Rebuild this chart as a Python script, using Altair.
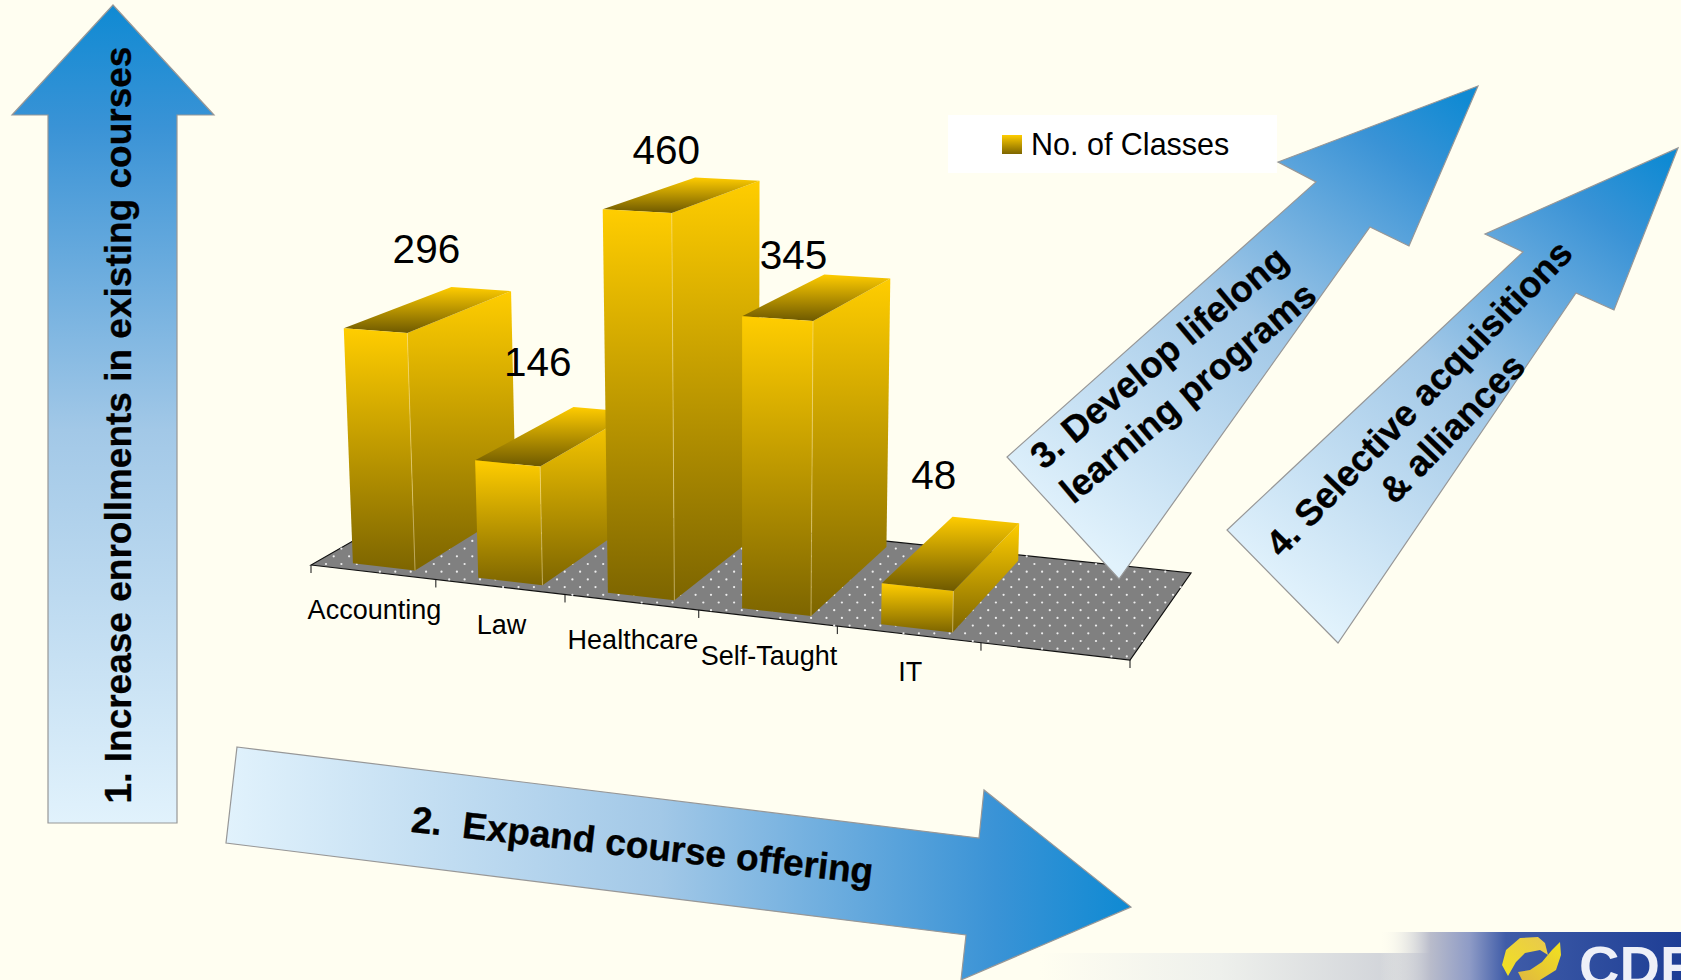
import altair as alt
import pandas as pd

# Chart data
CATEGORIES = ["Accounting", "Law", "Healthcare", "Self-Taught", "IT"]
CLASSES = [296, 146, 460, 345, 48]
LEGEND_TITLE = "No. of Classes"

W, H = 1681, 980
BG = "#FFFEF1"
X_SCALE = alt.Scale(domain=[0, W], range=[0, W])
Y_SCALE = alt.Scale(domain=[H, 0])

# Floor of the 3D plot: front-left, front-right, back-right, back-left
FLOOR = [(311, 565), (1130, 660), (1191, 573), (435, 494)]
SLOTS = 6


def floor_projection():
    (x0, y0), (x1, y1), (x2, y2), (x3, y3) = FLOOR
    dx1, dx2, sx = x1 - x2, x3 - x2, x0 - x1 + x2 - x3
    dy1, dy2, sy = y1 - y2, y3 - y2, y0 - y1 + y2 - y3
    det = dx1 * dy2 - dx2 * dy1
    g = (sx * dy2 - dx2 * sy) / det
    h = (dx1 * sy - sx * dy1) / det
    a, b, c = x1 - x0 + g * x1, x3 - x0 + h * x3, x0
    d, e, f = y1 - y0 + g * y1, y3 - y0 + h * y3, y0

    def project(slot, depth):
        u = slot / SLOTS
        w = g * u + h * depth + 1
        return ((a * u + b * depth + c) / w, (d * u + e * depth + f) / w)

    return project


floor_point = floor_projection()


def lift(point, value):
    # Raise a floor point by a data value; nearer points and taller columns scale up
    x, y = point
    rise = value * (0.79 + (y - 570) * 0.0011) * (1 + value * 5e-5)
    return (x + (x - 742) * 1e-4 * rise, y - rise)


def polygon(points):
    ring = [list(p) for p in points] + [list(points[0])]
    return {"type": "Feature", "properties": {},
            "geometry": {"type": "Polygon", "coordinates": [ring]}}


def shape(points, **mark):
    mark.setdefault("stroke", "transparent")
    mark.setdefault("strokeWidth", 0)
    return (alt.Chart(alt.Data(values=[polygon(points)]))
            .mark_geoshape(**mark)
            .project(type="identity", scale=1, translate=[0, 0]))


def text_layer(rows, **mark):
    return alt.Chart(pd.DataFrame(rows)).mark_text(**mark).encode(
        x=alt.X("px:Q", scale=X_SCALE, axis=None),
        y=alt.Y("py:Q", scale=Y_SCALE, axis=None),
        text=alt.Text("label:N"),
    )


def gradient(stops, x1=0.0, y1=0.0, x2=0.0, y2=1.0):
    return alt.LinearGradient(
        gradient="linear", x1=x1, y1=y1, x2=x2, y2=y2,
        stops=[alt.GradientStop(offset=o, color=c) for o, c in stops],
    )


layers = []

# Footer banner with the logo
layers.append(shape([(1040, 953), (1440, 953), (1440, 980), (1040, 980)],
                    fill=gradient([(0, BG), (0.45, "#EEF0EC"), (1, "#C9CCD4")], 0, 0, 1, 0)))
layers.append(shape([(1379, 932), (1681, 932), (1681, 980), (1379, 980)],
                    fill=gradient([(0, "#FFFEF100"), (0.17, "#B9BCCB"), (0.3, "#8E9BC6"),
                                   (0.42, "#3F5CA8"), (1, "#1E3E95")], 0, 0, 1, 0)))
LOGO_UPPER = [(1538, 937), (1520, 938), (1506, 950), (1502, 965), (1508, 976), (1516, 962),
              (1525, 953), (1540, 950), (1548, 955), (1545, 943)]
LOGO_LOWER = [(1560, 942), (1561, 955), (1556, 970), (1540, 980), (1522, 980), (1518, 972),
              (1530, 970), (1542, 962), (1552, 950)]
layers.append(shape(LOGO_UPPER, fill=gradient([(0, "#E8C850"), (1, "#F2E21E")], 1, 0, 0, 1)))
layers.append(shape(LOGO_LOWER, fill=gradient([(0, "#F2E21E"), (1, "#E0B840")], 1, 0, 0, 1)))
layers.append(text_layer([{"px": 1579, "py": 985, "label": "CDF"}],
                         font="Liberation Sans", fontWeight="bold", fontSize=56,
                         color="#EEF0F8", align="left", baseline="alphabetic"))

# Floor with its dotted fill, outline and tick marks
layers.append(shape(FLOOR, fill="#808080", stroke="#111111", strokeWidth=1.2))


def inside_floor(x, y):
    sign = []
    for i in range(4):
        ax, ay = FLOOR[i]
        bx, by = FLOOR[(i + 1) % 4]
        sign.append((bx - ax) * (y - ay) - (by - ay) * (x - ax) < -2.5)
    return all(sign)


dots = []
for row in range(-14, 30):
    py = 571.7 + row * 7.7
    for col in range(-60, 20):
        px = 1026.7 + (col + (row % 2) / 2) * 15.4
        if inside_floor(px, py):
            dots.append({"px": px, "py": py})
layers.append(alt.Chart(pd.DataFrame(dots)).mark_circle(size=5, color="#EDEDED", opacity=1).encode(
    x=alt.X("px:Q", scale=X_SCALE, axis=None),
    y=alt.Y("py:Q", scale=Y_SCALE, axis=None),
))

ticks = []
for slot in range(SLOTS + 1):
    px, py = floor_point(slot, 0)
    ticks.append({"px": px, "py": py, "py2": py + 8})
layers.append(alt.Chart(pd.DataFrame(ticks)).mark_rule(color="#111111", strokeWidth=1).encode(
    x=alt.X("px:Q", scale=X_SCALE, axis=None),
    y=alt.Y("py:Q", scale=Y_SCALE, axis=None),
    y2="py2:Q",
))

# Bars, painted left to right so that nearer columns overlap the earlier ones
GOLD = [(0, "#FFCD00"), (1, "#7D6500")]
TOP_FACE = [(0, "#FFCC00"), (1, "#6E5900")]
SLOT_START, SLOT_END = 0.265, 0.765
DEPTH_FRONT, DEPTH_BACK = 0.07, 0.93
LABEL_OFFSETS = [(-2, -24), (-18, -31), (-16, -13), (-24, -5), (-18, -28)]

value_labels = []
for i, value in enumerate(CLASSES):
    fl = floor_point(i + SLOT_START, DEPTH_FRONT)
    fr = floor_point(i + SLOT_END, DEPTH_FRONT)
    br = floor_point(i + SLOT_END, DEPTH_BACK)
    bl = floor_point(i + SLOT_START, DEPTH_BACK)
    tfl, tfr, tbr, tbl = (lift(p, value) for p in (fl, fr, br, bl))
    layers.append(shape([fr, br, tbr, tfr], fill=gradient(GOLD)))
    layers.append(shape([tfl, tfr, tbr, tbl], fill=gradient(TOP_FACE)))
    layers.append(shape([fl, fr, tfr, tfl], fill=gradient(GOLD)))
    # Faint highlight along the near vertical edge
    layers.append(shape([fr, tfr], fill="transparent", stroke="#F4DE90",
                        strokeWidth=0.6, strokeOpacity=0.5))
    dx, dy = LABEL_OFFSETS[i]
    value_labels.append({
        "px": (tfl[0] + tfr[0] + tbr[0] + tbl[0]) / 4 + dx,
        "py": tbl[1] + dy,
        "label": str(value),
    })

layers.append(text_layer(value_labels, font="Liberation Sans", fontSize=40.5, color="#000000",
                         align="center", baseline="alphabetic"))

category_labels = []
for i, name in enumerate(CATEGORIES):
    left, right = floor_point(i, 0), floor_point(i + 1, 0)
    category_labels.append({"px": (left[0] + right[0]) / 2 + 1,
                            "py": (left[1] + right[1]) / 2 + 47,
                            "label": name})
layers.append(text_layer(category_labels, font="Liberation Sans", fontSize=27, color="#000000",
                         align="center", baseline="alphabetic"))

# Legend box
layers.append(shape([(948, 115), (1277, 115), (1277, 173), (948, 173)], fill="#FFFFFF"))
layers.append(shape([(1002, 135), (1022, 135), (1022, 154), (1002, 154)], fill=gradient(GOLD)))
layers.append(text_layer([{"px": 1031, "py": 155, "label": LEGEND_TITLE}],
                         font="Liberation Sans", fontSize=30.5, color="#000000",
                         align="left", baseline="alphabetic"))

# Strategy arrows
BLUE = [(0, "#E1F2FC"), (0.48, "#A2C8E7"), (0.85, "#3A93D6"), (1, "#0F8AD3")]
ARROW_STROKE = {"stroke": "#979797", "strokeWidth": 1.2}

ARROW_UP = [(113, 5), (214, 115), (177, 115), (177, 823), (48, 823), (48, 115), (12, 115)]
ARROW_RIGHT = [(237, 747), (979, 838), (984, 790), (1131, 907), (961, 980), (966, 935), (226, 843)]
ARROW_LIFELONG = [(1478, 86), (1409, 246), (1370, 227), (1119, 579), (1007, 457), (1316, 182), (1278, 162)]
ARROW_ALLIANCES = [(1678, 148), (1614, 310), (1576, 293), (1338, 643), (1227, 530), (1523, 252), (1485, 234)]

layers.append(shape(ARROW_UP, fill=gradient(BLUE, 0, 1, 0, 0), **ARROW_STROKE))
layers.append(shape(ARROW_RIGHT, fill=gradient(BLUE, 0, 0, 1, 0), **ARROW_STROKE))
layers.append(shape(ARROW_LIFELONG, fill=gradient(BLUE, 0.3, 1.02, 0.97, 0.02), **ARROW_STROKE))
layers.append(shape(ARROW_ALLIANCES, fill=gradient(BLUE, 0.3, 1.02, 0.97, 0.02), **ARROW_STROKE))

ARROW_TEXTS = [
    ("1. Increase enrollments in existing courses", 131, 425, 270, 37),
    ("2.\u00a0 Expand course offering", 641, 858, 6.5, 37),
    ("3. Develop lifelong", 1167, 367, 320, 36.5),
    ("learning programs", 1196, 402, 320, 36.5),
    ("4. Selective acquisitions", 1428, 407, 314, 36.5),
    ("& alliances", 1461, 437, 314, 36.5),
]
for label, px, py, angle, size in ARROW_TEXTS:
    layers.append(text_layer([{"px": px, "py": py, "label": label}],
                             font="Liberation Sans", fontWeight="bold", fontSize=size,
                             color="#000000", stroke="#000000", strokeWidth=0.35,
                             align="center", baseline="alphabetic", angle=angle))

chart = (
    alt.layer(*layers)
    .properties(width=W, height=H, padding=0, background=BG,
                autosize=alt.AutoSizeParams(type="none"))
    .configure_view(stroke=None)
)

chart.save("out.html", embed_options={"renderer": "svg", "actions": False})
